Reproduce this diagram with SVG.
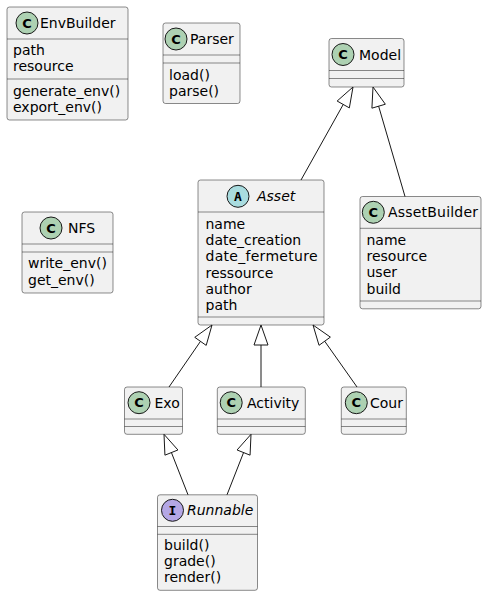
<svg xmlns="http://www.w3.org/2000/svg" width="487" height="596" viewBox="0 0 487 596">
<style>
.box{fill:#F1F1F1;stroke:#181818;stroke-width:0.5}
.sep{stroke:#181818;stroke-width:0.5}
.t{font-family:"DejaVu Sans",sans-serif;font-size:14px;fill:#000}
.it{font-style:italic}
.circ{stroke:#181818;stroke-width:1}
.cC{fill:#ADD1B2}
.cA{fill:#A9DCDF}
.cI{fill:#B4A7E5}
.lt{font-family:"DejaVu Sans Mono",monospace;font-size:13px;font-weight:bold;fill:#000;text-anchor:middle}
.lc{font-family:"DejaVu Sans",sans-serif;font-size:13px;font-weight:bold;fill:#000;text-anchor:middle}
.edge{stroke:#181818;stroke-width:1;fill:none}
.head{stroke:#181818;stroke-width:1;fill:none}
</style>
<rect width="487" height="596" fill="#FFFFFF"/>

<g id="EnvBuilder">
<rect class="box" x="7" y="7" width="121" height="113" rx="2.5"/>
<circle class="circ cC" cx="27" cy="23" r="11"/>
<text class="lc" x="27" y="27.7">C</text>
<text class="t" x="40" y="28">EnvBuilder</text>
<line class="sep" x1="7" y1="39" x2="128" y2="39"/>
<text class="t" x="13" y="55">path</text>
<text class="t" x="13" y="71.3">resource</text>
<line class="sep" x1="7" y1="79" x2="128" y2="79"/>
<text class="t" x="13" y="96">generate_env()</text>
<text class="t" x="13" y="112.3">export_env()</text>
</g>

<g id="Parser">
<rect class="box" x="163" y="23" width="77" height="80.5" rx="2.5"/>
<circle class="circ cC" cx="176" cy="39" r="11"/>
<text class="lc" x="176" y="43.7">C</text>
<text class="t" x="190" y="44">Parser</text>
<line class="sep" x1="163" y1="55" x2="240" y2="55"/>
<line class="sep" x1="163" y1="63" x2="240" y2="63"/>
<text class="t" x="169" y="79.5">load()</text>
<text class="t" x="169" y="95.8">parse()</text>
</g>

<g id="Model">
<rect class="box" x="329" y="38.5" width="75" height="48.5" rx="2.5"/>
<circle class="circ cC" cx="343" cy="54.5" r="11"/>
<text class="lc" x="343" y="59.2">C</text>
<text class="t" x="359" y="59.5">Model</text>
<line class="sep" x1="329" y1="70.5" x2="404" y2="70.5"/>
<line class="sep" x1="329" y1="78.5" x2="404" y2="78.5"/>
</g>

<g id="Asset">
<rect class="box" x="198" y="180" width="126" height="145" rx="2.5"/>
<circle class="circ cA" cx="238" cy="196.3" r="11"/>
<text class="lt" x="238" y="201">A</text>
<text class="t it" x="257" y="200.8">Asset</text>
<line class="sep" x1="198" y1="212" x2="324" y2="212"/>
<text class="t" x="205.5" y="228.6">name</text>
<text class="t" x="205.5" y="244.9">date_creation</text>
<text class="t" x="205.5" y="261.2" textLength="112">date_fermeture</text>
<text class="t" x="205.5" y="277.5">ressource</text>
<text class="t" x="205.5" y="293.8">author</text>
<text class="t" x="205.5" y="309.5">path</text>
<line class="sep" x1="198" y1="317" x2="324" y2="317"/>
</g>

<g id="AssetBuilder">
<rect class="box" x="360" y="196.5" width="121" height="112.3" rx="2.5"/>
<circle class="circ cC" cx="373.3" cy="212.3" r="11"/>
<text class="lc" x="373.3" y="217">C</text>
<text class="t" x="388" y="217.3" textLength="90">AssetBuilder</text>
<line class="sep" x1="360" y1="228.3" x2="481" y2="228.3"/>
<text class="t" x="366.5" y="244.6">name</text>
<text class="t" x="366.5" y="260.9">resource</text>
<text class="t" x="366.5" y="277.2">user</text>
<text class="t" x="366.5" y="293.5">build</text>
<line class="sep" x1="360" y1="301" x2="481" y2="301"/>
</g>

<g id="NFS">
<rect class="box" x="22" y="212" width="91" height="81" rx="2.5"/>
<circle class="circ cC" cx="51" cy="228" r="11"/>
<text class="lc" x="51" y="232.7">C</text>
<text class="t" x="68" y="233">NFS</text>
<line class="sep" x1="22" y1="244" x2="113" y2="244"/>
<line class="sep" x1="22" y1="252" x2="113" y2="252"/>
<text class="t" x="28" y="268.3">write_env()</text>
<text class="t" x="28" y="284.6">get_env()</text>
</g>

<g id="Exo">
<rect class="box" x="124.5" y="387" width="58" height="47.3" rx="2.5"/>
<circle class="circ cC" cx="139" cy="402.7" r="11"/>
<text class="lc" x="139" y="407.4">C</text>
<text class="t" x="154.5" y="407.5">Exo</text>
<line class="sep" x1="124.5" y1="419" x2="182.5" y2="419"/>
<line class="sep" x1="124.5" y1="426.5" x2="182.5" y2="426.5"/>
</g>

<g id="Activity">
<rect class="box" x="217.3" y="387" width="88" height="47.3" rx="2.5"/>
<circle class="circ cC" cx="231.2" cy="402.7" r="11"/>
<text class="lc" x="231.2" y="407.4">C</text>
<text class="t" x="247" y="407.5">Activity</text>
<line class="sep" x1="217.3" y1="419" x2="305.3" y2="419"/>
<line class="sep" x1="217.3" y1="426.5" x2="305.3" y2="426.5"/>
</g>

<g id="Cour">
<rect class="box" x="341.3" y="387" width="65" height="47.3" rx="2.5"/>
<circle class="circ cC" cx="356.3" cy="402.7" r="11"/>
<text class="lc" x="356.3" y="407.4">C</text>
<text class="t" x="370" y="407.5">Cour</text>
<line class="sep" x1="341.3" y1="419" x2="406.3" y2="419"/>
<line class="sep" x1="341.3" y1="426.5" x2="406.3" y2="426.5"/>
</g>

<g id="Runnable">
<rect class="box" x="157.5" y="494.8" width="100" height="95.5" rx="2.5"/>
<circle class="circ cI" cx="172.5" cy="510.3" r="11"/>
<text class="lt" x="172.5" y="515">I</text>
<text class="t it" x="187" y="514.8">Runnable</text>
<line class="sep" x1="157.5" y1="526.5" x2="257.5" y2="526.5"/>
<line class="sep" x1="157.5" y1="534.3" x2="257.5" y2="534.3"/>
<text class="t" x="164" y="549.7">build()</text>
<text class="t" x="164" y="565.8">grade()</text>
<text class="t" x="164" y="581.8">render()</text>
</g>

<g id="connectors">
<line class="edge" x1="301" y1="180" x2="343.24" y2="104.46"/>
<polygon class="head" points="353,87 349.35,107.88 337.13,101.04"/>
<line class="edge" x1="405" y1="196.5" x2="378.63" y2="106.19"/>
<polygon class="head" points="373,87 385.35,104.22 371.91,108.16"/>
<line class="edge" x1="169" y1="387" x2="200.48" y2="341.35"/>
<polygon class="head" points="212,325 206.2,345.38 194.76,337.32"/>
<line class="edge" x1="261" y1="387" x2="261" y2="345"/>
<polygon class="head" points="261,325 268,345 254,345"/>
<line class="edge" x1="357" y1="387" x2="324.7" y2="341.22"/>
<polygon class="head" points="313,325 330.38,337.12 319.02,345.32"/>
<line class="edge" x1="188" y1="494.8" x2="171.43" y2="452.57"/>
<polygon class="head" points="164,434.3 177.93,449.97 164.93,455.17"/>
<line class="edge" x1="227" y1="494.8" x2="243.57" y2="452.57"/>
<polygon class="head" points="251,434.3 250.07,455.17 237.07,449.97"/>
</g>
</svg>
